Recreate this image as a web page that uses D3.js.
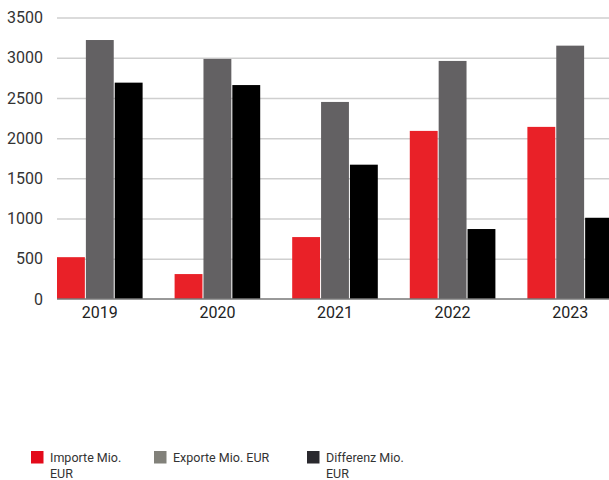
<!DOCTYPE html>
<html><head><meta charset="utf-8">
<script src="https://cdn.jsdelivr.net/npm/d3@7"></script>
<style>body{margin:0;background:#fff}svg{display:block}</style>
</head><body><svg id="c" width="609" height="480"></svg>
<script>
const years = ["2019","2020","2021","2022","2023"];
const importe = [520, 310, 770, 2090, 2140];
const exporte = [3220, 2985, 2450, 2960, 3150];
const differenz = [2690, 2660, 1670, 870, 1010];
const yTicks = [0,500,1000,1500,2000,2500,3000,3500];
const seriesNames = ["Importe Mio. EUR","Exporte Mio. EUR","Differenz Mio. EUR"];
const barColors = ["#e92128","#636163","#000000"];
const legendColors = ["#e30a1a","#82817a","#2a292e"];

(function(){
const svg = d3.select("#c");
const mLeft = 57, mRight = 613, mTop = 17.5, mBottom = 299;
const x = d3.scaleBand().domain(years).range([mLeft, mRight]).paddingInner(0.272).paddingOuter(0);
const keys = [0,1,2];
const xs = d3.scaleBand().domain(keys).range([0, x.bandwidth()]).paddingInner(0.035);
const y = d3.scaleLinear().domain([0,3500]).range([mBottom, mTop]);
const series = [importe, exporte, differenz];

const grid = svg.append("g").attr("transform",`translate(${mLeft},0)`)
  .call(d3.axisLeft(y).tickValues(yTicks.filter(d=>d>0)).tickSize(-(609-mLeft)).tickFormat(""));
grid.select(".domain").remove();
grid.selectAll("line").attr("stroke","#cfcfcf").attr("stroke-width",1.5);

const ya = svg.append("g").attr("transform",`translate(${mLeft},0)`)
  .call(d3.axisLeft(y).tickValues(yTicks).tickSize(0).tickPadding(14).tickFormat(d3.format("d")));
ya.select(".domain").remove();
ya.selectAll("text").attr("font-family","Roboto").attr("font-size",16).attr("fill","#333");

const g = svg.append("g");
years.forEach((yr,i)=>{
  keys.forEach(k=>{
    const v = series[k][i];
    g.append("rect").attr("x", x(yr)+xs(k)).attr("width", xs.bandwidth())
      .attr("y", y(v)).attr("height", y(0)-y(v)).attr("fill", barColors[k]);
  });
});

const xa = svg.append("g").attr("transform",`translate(0,${mBottom})`)
  .call(d3.axisBottom(x).tickSize(0).tickPadding(8));
xa.select(".domain").attr("stroke","#777").attr("stroke-width",1.5).attr("d",`M${mLeft},0H609`);
xa.selectAll("text").attr("font-family","Roboto").attr("font-size",16).attr("fill","#222");

const legX = [31, 154, 307];
const legLines = [["Importe Mio.","EUR"],["Exporte Mio. EUR"],["Differenz Mio.","EUR"]];
const lg = svg.append("g").attr("font-family","Roboto").attr("font-size",12.5).attr("fill","#333");
keys.forEach(k=>{
  lg.append("rect").attr("x",legX[k]).attr("y",451).attr("width",12.5).attr("height",12.5).attr("fill",legendColors[k]);
  const t = lg.append("text").attr("x",legX[k]+19).attr("y",462);
  legLines[k].forEach((l,j)=>t.append("tspan").attr("x",legX[k]+19).attr("dy", j? 16:0).text(l));
});
})();
</script></body></html>
